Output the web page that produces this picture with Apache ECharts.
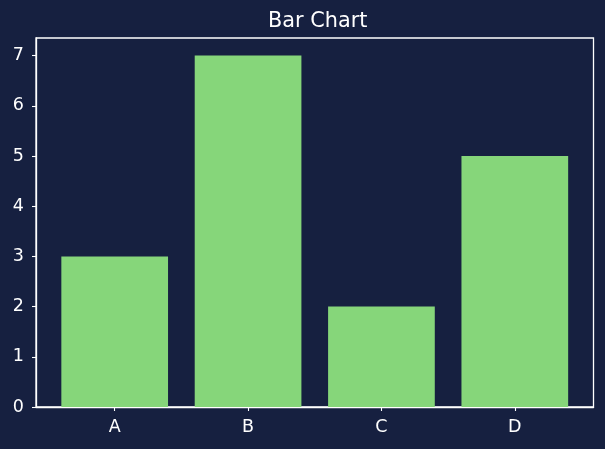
<!DOCTYPE html>
<html>
<head>
<meta charset="utf-8">
<script src="https://cdn.jsdelivr.net/npm/echarts@6/dist/echarts.min.js"></script>
<style>
  html, body { margin: 0; padding: 0; background: #162040; }
  #chart { width: 605px; height: 449px; }
</style>
</head>
<body>
<div id="chart"></div>
<script>
const categories = ["A", "B", "C", "D"];
const values = [3, 7, 2, 5];
const yTicks = [0, 1, 2, 3, 4, 5, 6, 7];

const chart = echarts.init(document.getElementById("chart"));
const grid = { left: 36, right: 11.5, top: 38, bottom: 42 };
const xMin = -0.59, xMax = 3.59;
const plotWidth = 605 - grid.left - grid.right;
const barWidth = 0.8 * plotWidth / (xMax - xMin);
const font = "DejaVu Sans";

chart.setOption({
  backgroundColor: "#162040",
  animation: false,
  title: {
    text: "Bar Chart",
    left: grid.left + plotWidth / 2 - 2,
    textAlign: "center",
    top: 6,
    textStyle: { color: "#ffffff", fontFamily: font, fontSize: 20.8, fontWeight: "normal" },
  },
  grid: { ...grid, show: true, borderColor: "#ffffff", borderWidth: 1.3, backgroundColor: "transparent" },
  xAxis: {
    type: "value",
    min: xMin,
    max: xMax,
    splitLine: { show: false },
    axisLine: { show: true, onZero: false, lineStyle: { color: "#ffffff", width: 1.3 } },
    axisTick: { show: true, length: 4, customValues: categories.map((c, i) => i), lineStyle: { color: "#ffffff", width: 1.1 } },
    axisLabel: {
      customValues: categories.map((c, i) => i),
      formatter: v => categories[Math.round(v)] ?? "",
      color: "#ffffff", fontFamily: font, fontSize: 17.5, margin: 11,
    },
  },
  yAxis: {
    type: "value",
    min: 0,
    max: 7.35,
    splitLine: { show: false },
    axisLine: { show: true, onZero: false, lineStyle: { color: "#ffffff", width: 1.3 } },
    axisTick: { show: true, length: 4, customValues: yTicks, lineStyle: { color: "#ffffff", width: 1.1 } },
    axisLabel: { customValues: yTicks, color: "#ffffff", fontFamily: font, fontSize: 17.5, margin: 12 },
  },
  series: [{
    type: "bar",
    data: values.map((v, i) => [i, v]),
    barWidth: barWidth,
    itemStyle: { color: "#86d67a" },
  }],
});
</script>
</body>
</html>
